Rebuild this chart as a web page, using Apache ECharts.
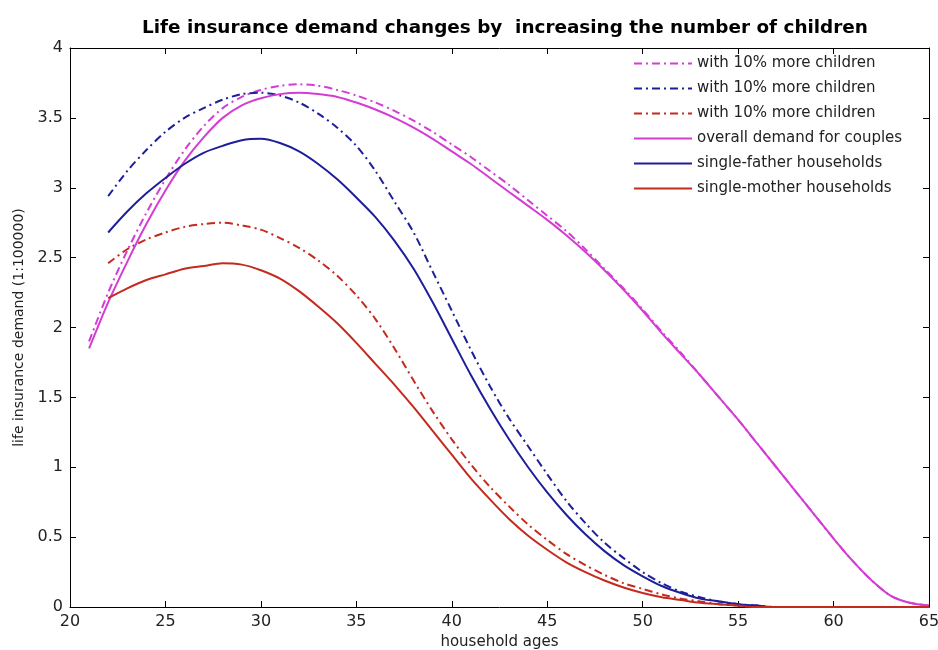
<!DOCTYPE html>
<html><head><meta charset="utf-8">
<script src="https://cdn.jsdelivr.net/npm/echarts@6/dist/echarts.min.js"></script>
<style>html,body{margin:0;padding:0;background:#fff}#c{width:938px;height:650px}</style>
</head><body><div id="c"></div>
<script>
var ages = [21,22,23,24,25,26,27,28,29,30,31,32,33,34,35,36,37,38,39,40,41,42,43,44,45,46,47,48,49,50,51,52,53,54,55,56,57,58,59,60,61,62,63,64,65];
var couplesMore = [1.90,2.25,2.55,2.82,3.06,3.27,3.44,3.57,3.65,3.70,3.73,3.74,3.73,3.70,3.66,3.61,3.55,3.48,3.40,3.31,3.22,3.12,3.02,2.91,2.80,2.69,2.56,2.42,2.28,2.13,1.97,1.82,1.66,1.50,1.34,1.17,1.00,0.83,0.66,0.49,0.33,0.19,0.08,0.03,0.01];
var fatherMore = [null,2.94,3.12,3.27,3.40,3.50,3.57,3.63,3.67,3.68,3.66,3.61,3.53,3.43,3.30,3.12,2.90,2.68,2.40,2.12,1.84,1.58,1.35,1.15,0.95,0.76,0.60,0.46,0.35,0.25,0.17,0.11,0.07,0.04,0.02,0.01,0,0,0,0,0,0,0,0,0];
var motherMore = [null,2.46,2.56,2.63,2.68,2.72,2.74,2.75,2.73,2.70,2.64,2.57,2.48,2.37,2.23,2.06,1.85,1.62,1.40,1.20,1.02,0.86,0.72,0.59,0.48,0.38,0.30,0.23,0.17,0.13,0.09,0.06,0.04,0.02,0.01,0,0,0,0,0,0,0,0,0,0];
var couples = [1.85,2.18,2.47,2.74,2.98,3.19,3.36,3.50,3.59,3.64,3.67,3.68,3.67,3.65,3.61,3.56,3.50,3.43,3.35,3.26,3.17,3.07,2.97,2.87,2.77,2.66,2.54,2.41,2.27,2.12,1.96,1.81,1.66,1.50,1.34,1.17,1.00,0.83,0.66,0.49,0.33,0.19,0.08,0.03,0.01];
var father = [null,2.68,2.83,2.96,3.07,3.17,3.25,3.30,3.34,3.35,3.32,3.26,3.17,3.06,2.93,2.79,2.62,2.42,2.18,1.92,1.66,1.42,1.20,1.00,0.82,0.66,0.52,0.40,0.30,0.22,0.15,0.10,0.06,0.04,0.02,0.01,0,0,0,0,0,0,0,0,0];
var mother = [null,2.21,2.28,2.34,2.38,2.42,2.44,2.46,2.45,2.41,2.35,2.26,2.15,2.03,1.89,1.74,1.59,1.43,1.26,1.09,0.92,0.77,0.63,0.51,0.41,0.32,0.25,0.19,0.14,0.10,0.07,0.05,0.03,0.02,0.01,0,0,0,0,0,0,0,0,0,0];
var names = ['with 10% more children','with 10% more children ','with 10% more children  ','overall demand for couples','single-father households','single-mother households'];

var MAG='#d43cd4', BLU='#1e1e9a', RED='#c42a1e';
var DASH=[8,4,2,4];
function pairs(arr){ return ages.map(function(a,i){ return [a,arr[i]]; }); }
function mk(name,arr,color,dashed){
  return {name:name,type:'line',data:pairs(arr),smooth:0.3,symbol:'none',showSymbol:false,connectNulls:false,
    xAxisIndex:0,yAxisIndex:0,
    lineStyle:{color:color,width:2,type:dashed?DASH:'solid'},itemStyle:{color:color}};
}
var FONT='DejaVu Sans, Verdana, sans-serif';
var chart = echarts.init(document.getElementById('c'),null,{renderer:'canvas'});
var axLine={show:true,onZero:false,lineStyle:{color:'#000',width:1}};
var tick={show:true,inside:true,length:6,lineStyle:{color:'#000'}};
chart.setOption({
  backgroundColor:'#fff',
  animation:false,
  title:{text:'Life insurance demand changes by  increasing the number of children',left:500,textAlign:'center',top:14,
    textStyle:{fontFamily:FONT,fontSize:18.4,fontWeight:'bold',color:'#000'}},
  grid:{left:70,right:9,top:48,bottom:43,containLabel:false,outerBoundsMode:'none'},
  legend:{orient:'vertical',left:633,top:56,padding:0,itemWidth:58,itemHeight:14,itemGap:10,
    itemStyle:{opacity:0},
    textStyle:{fontFamily:FONT,fontSize:15,color:'#222'},
    data:names},
  xAxis:[{type:'value',min:20,max:65,interval:5,position:'bottom',name:'household ages',nameLocation:'middle',nameGap:28,
      nameTextStyle:{fontFamily:FONT,fontSize:15,color:'#222'},
      axisLine:axLine,axisTick:tick,
      axisLabel:{fontFamily:FONT,fontSize:16,color:'#222',margin:7},splitLine:{show:false}},
    {type:'value',min:20,max:65,interval:5,position:'top',
      axisLine:axLine,axisTick:tick,axisLabel:{show:false},splitLine:{show:false}}],
  yAxis:[{type:'value',min:0,max:4,interval:0.5,position:'left',name:'life insurance demand (1:100000)',nameLocation:'middle',nameGap:41,
      nameTextStyle:{fontFamily:FONT,fontSize:14,color:'#222'},
      axisLine:axLine,axisTick:tick,
      axisLabel:{fontFamily:FONT,fontSize:16,color:'#222',margin:7},splitLine:{show:false}},
    {type:'value',min:0,max:4,interval:0.5,position:'right',
      axisLine:axLine,axisTick:tick,axisLabel:{show:false},splitLine:{show:false}}],
  series:[
    mk(names[0],couplesMore,MAG,true),
    mk(names[1],fatherMore,BLU,true),
    mk(names[2],motherMore,RED,true),
    mk(names[3],couples,MAG,false),
    mk(names[4],father,BLU,false),
    mk(names[5],mother,RED,false)
  ]
});
</script></body></html>
